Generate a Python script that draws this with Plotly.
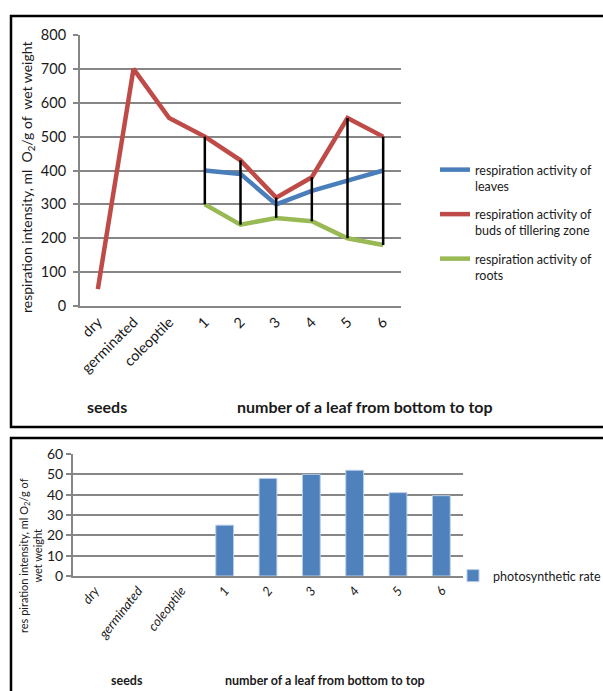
import plotly.graph_objects as go

# Categories shared by both panels
categories = ["dry", "germinated", "coleoptile", "1", "2", "3", "4", "5", "6"]

# Respiration intensity, ml O2/g of wet weight
resp_leaves = [None, None, None, 400, 390, 300, 340, 370, 400]
resp_buds = [50, 700, 555, 500, 430, 320, 380, 555, 500]
resp_roots = [None, None, None, 300, 240, 260, 250, 200, 180]

# Photosynthetic rate
photo_rate = [None, None, None, 25, 48, 50, 52, 41, 39.5]

top_ticks = [0, 100, 200, 300, 400, 500, 600, 700, 800]
bottom_ticks = [0, 10, 20, 30, 40, 50, 60]

W, H = 603, 691
GRID = "#868686"
TXT = "#1a1a1a"
FONT = "Lato, 'Open Sans', sans-serif"


def px_x(v):
    return v / W


def px_y(v):
    return 1 - v / H


fig = go.Figure()

# --- top panel: respiration lines ---
fig.add_trace(go.Scatter(
    x=categories, y=resp_leaves, mode="lines",
    name="respiration activity of<br>leaves",
    line=dict(color="#4A7EBB", width=4.5),
    legendgroup="a", legend="legend", xaxis="x", yaxis="y",
))
fig.add_trace(go.Scatter(
    x=categories, y=resp_buds, mode="lines",
    name="respiration activity of<br>buds of tillering zone",
    line=dict(color="#BE4B48", width=4.5),
    legendgroup="b", legend="legend", xaxis="x", yaxis="y",
))
fig.add_trace(go.Scatter(
    x=categories, y=resp_roots, mode="lines",
    name="respiration activity of<br>roots",
    line=dict(color="#98B954", width=4.5),
    legendgroup="c", legend="legend", xaxis="x", yaxis="y",
))

# high-low lines between roots and buds for each leaf
hl_x, hl_y = [], []
for c, lo, hi in zip(categories, resp_roots, resp_buds):
    if lo is None:
        continue
    hl_x += [c, c, None]
    hl_y += [lo, hi, None]
fig.add_trace(go.Scatter(
    x=hl_x, y=hl_y, mode="lines", showlegend=False,
    line=dict(color="black", width=2.5), xaxis="x", yaxis="y",
))

# --- bottom panel: photosynthetic rate bars ---
fig.add_trace(go.Bar(
    x=categories, y=photo_rate, name="photosynthetic rate",
    marker=dict(color="#4F81BD", line=dict(color="#B9CDE5", width=1)),
    legend="legend2", xaxis="x2", yaxis="y2",
))

axis_common = dict(showgrid=True, gridcolor=GRID, gridwidth=2,
                   zeroline=False, showline=True, linecolor=GRID, linewidth=2)

fig.update_layout(
    width=W, height=H,
    margin=dict(l=0, r=0, t=0, b=0, autoexpand=False),
    paper_bgcolor="white", plot_bgcolor="white",
    font=dict(family=FONT, color=TXT),
    bargap=0.59,
    xaxis=dict(
        domain=[px_x(80), px_x(401)], anchor="y",
        type="category", categoryorder="array", categoryarray=categories,
        range=[-0.5, 8.5], showgrid=False, showline=True, linecolor=GRID,
        linewidth=2, ticks="", tickangle=-45,
        tickfont=dict(size=14.5, family=FONT, color=TXT),
    ),
    yaxis=dict(
        domain=[px_y(306), px_y(35)], anchor="x",
        range=[0, 800], tickvals=top_ticks,
        ticks="outside", ticklen=5, tickwidth=2, tickcolor=GRID,
        ticklabelstandoff=4,
        tickfont=dict(size=14.5, family=FONT, color=TXT),
        **axis_common,
    ),
    xaxis2=dict(
        domain=[px_x(73), px_x(463)], anchor="y2",
        type="category", categoryorder="array", categoryarray=categories,
        range=[-0.5, 8.5], showgrid=False, showline=True, linecolor=GRID,
        linewidth=2, ticks="", tickangle=-52,
        tickvals=categories,
        ticktext=[f"<i>{c}</i>" for c in categories],
        tickfont=dict(size=13, family=FONT, color=TXT),
    ),
    yaxis2=dict(
        domain=[px_y(576), px_y(454)], anchor="x2",
        range=[0, 60], tickvals=bottom_ticks,
        ticks="outside", ticklen=5, tickwidth=2, tickcolor=GRID,
        tickfont=dict(size=14, family=FONT, color=TXT),
        **axis_common,
    ),
    legend=dict(
        x=px_x(435), y=px_y(155), xanchor="left", yanchor="top",
        bgcolor="rgba(0,0,0,0)", valign="top", tracegroupgap=9,
        font=dict(size=12.5, family=FONT, color=TXT),
    ),
    legend2=dict(
        x=px_x(453), y=px_y(561), xanchor="left", yanchor="top",
        bgcolor="rgba(0,0,0,0)",
        font=dict(size=12.5, family=FONT, color=TXT),
    ),
)

# panel frames
fig.add_shape(type="rect", xref="paper", yref="paper",
              x0=px_x(11), x1=px_x(620), y0=px_y(427), y1=px_y(16),
              line=dict(color="black", width=2.5), layer="below")
fig.add_shape(type="rect", xref="paper", yref="paper",
              x0=px_x(11), x1=px_x(620), y0=px_y(705), y1=px_y(438),
              line=dict(color="black", width=2.5), layer="below")

annotations = [
    dict(text="respiration intensity, ml  O<sub>2</sub>/g of  wet weight",
         x=px_x(27), y=px_y(178), textangle=-90,
         font=dict(size=14, family=FONT, color=TXT)),
    dict(text="<b>seeds</b>", x=px_x(107), y=px_y(407),
         font=dict(size=16, family=FONT, color=TXT)),
    dict(text="<b>number of a leaf from bottom to top</b>", x=px_x(365), y=px_y(407),
         font=dict(size=16, family=FONT, color=TXT)),
    dict(text="res piration intensity, ml O<sub>2</sub>/g of<br>wet weight",
         x=px_x(30), y=px_y(556), textangle=-90,
         font=dict(size=11, family=FONT, color=TXT)),
    dict(text="<b>seeds</b>", x=px_x(127), y=px_y(680),
         font=dict(size=12.5, family=FONT, color=TXT)),
    dict(text="<b>number of a leaf from bottom to top</b>", x=px_x(325), y=px_y(680),
         font=dict(size=12.5, family=FONT, color=TXT)),
]
for a in annotations:
    fig.add_annotation(xref="paper", yref="paper", showarrow=False,
                       xanchor="center", yanchor="middle", **a)

fig.write_html("out.html")
